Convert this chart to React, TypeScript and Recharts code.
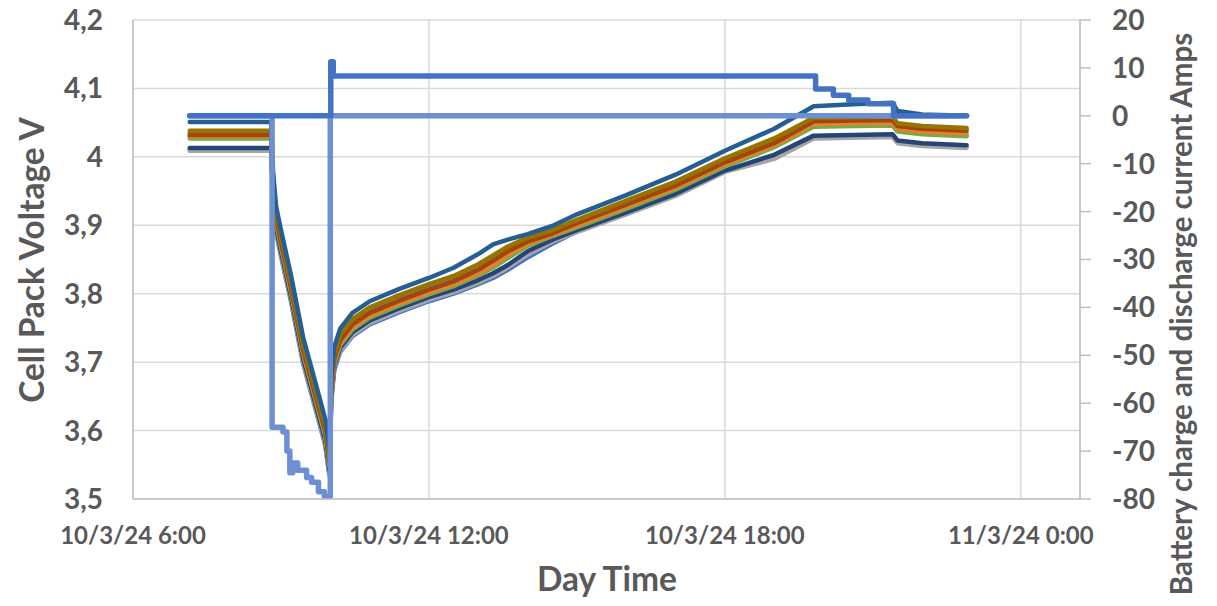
import { CartesianGrid, Line, LineChart, XAxis, YAxis } from "recharts";

// Sample times (hours since 10/3/24 0:00) shared by every cell trace
const hours = [
  7.15, 8.8, 8.84, 8.9, 9.0, 9.2, 9.45, 9.8, 9.9, 9.98, 10.02, 10.08, 10.2, 10.45, 10.8, 11.4, 12.0,
  12.5, 13.0, 13.3, 13.6, 14.0, 14.5, 15.0, 16.0, 17.0, 18.0, 19.0, 19.8, 20.6, 21.4, 21.5, 22.0, 22.9,
];

// Cell voltages (V)
const cellTeal = [
  4.051, 4.051, 3.978, 3.928, 3.893, 3.828, 3.736, 3.643, 3.616, 3.573, 3.677, 3.722, 3.749, 3.772, 3.789, 3.807, 3.823,
  3.838, 3.858, 3.872, 3.879, 3.887, 3.899, 3.916, 3.944, 3.974, 4.009, 4.041, 4.074, 4.077, 4.079, 4.067, 4.062, 4.06,
];
const cellOlive = [
  4.038, 4.038, 3.968, 3.918, 3.883, 3.818, 3.726, 3.633, 3.606, 3.563, 3.668, 3.713, 3.74, 3.763, 3.78, 3.798, 3.814,
  3.826, 3.843, 3.856, 3.869, 3.882, 3.893, 3.908, 3.936, 3.964, 3.998, 4.027, 4.057, 4.058, 4.059, 4.049, 4.045, 4.042,
];
const cellGrey = [
  4.035, 4.035, 3.964, 3.914, 3.879, 3.814, 3.722, 3.629, 3.602, 3.559, 3.664, 3.709, 3.736, 3.759, 3.776, 3.794, 3.81,
  3.822, 3.839, 3.852, 3.866, 3.879, 3.891, 3.906, 3.933, 3.961, 3.995, 4.023, 4.054, 4.055, 4.056, 4.047, 4.043, 4.04,
];
const cellBrown = [
  4.032, 4.032, 3.96, 3.91, 3.875, 3.81, 3.718, 3.625, 3.598, 3.555, 3.66, 3.705, 3.732, 3.755, 3.772, 3.79, 3.806,
  3.818, 3.835, 3.848, 3.862, 3.876, 3.888, 3.903, 3.93, 3.958, 3.992, 4.02, 4.052, 4.053, 4.054, 4.045, 4.041, 4.038,
];
const cellOrange = [
  4.03, 4.03, 3.957, 3.907, 3.872, 3.807, 3.715, 3.622, 3.595, 3.552, 3.656, 3.701, 3.728, 3.751, 3.768, 3.786, 3.802,
  3.814, 3.83, 3.842, 3.857, 3.873, 3.886, 3.9, 3.927, 3.955, 3.989, 4.017, 4.048, 4.049, 4.05, 4.041, 4.037, 4.034,
];
const cellGreen = [
  4.027, 4.027, 3.954, 3.904, 3.869, 3.804, 3.712, 3.619, 3.592, 3.549, 3.653, 3.698, 3.725, 3.748, 3.765, 3.783, 3.799,
  3.811, 3.827, 3.838, 3.852, 3.87, 3.884, 3.897, 3.924, 3.952, 3.986, 4.014, 4.044, 4.045, 4.046, 4.037, 4.033, 4.03,
];
const cellSky = [
  4.029, 4.029, 3.955, 3.905, 3.87, 3.805, 3.713, 3.62, 3.593, 3.55, 3.654, 3.699, 3.726, 3.749, 3.766, 3.784, 3.8,
  3.812, 3.828, 3.84, 3.854, 3.871, 3.885, 3.898, 3.925, 3.953, 3.987, 4.015, 4.045, 4.046, 4.047, 4.038, 4.034, 4.031,
];
const cellNavy = [
  4.013, 4.013, 3.947, 3.897, 3.862, 3.797, 3.705, 3.612, 3.585, 3.542, 3.649, 3.694, 3.721, 3.744, 3.761, 3.779, 3.795,
  3.806, 3.82, 3.83, 3.842, 3.862, 3.879, 3.893, 3.919, 3.946, 3.98, 4.003, 4.031, 4.032, 4.033, 4.024, 4.02, 4.017,
];
const cellSilver = [
  4.009, 4.009, 3.942, 3.892, 3.857, 3.792, 3.7, 3.607, 3.58, 3.537, 3.645, 3.69, 3.717, 3.74, 3.757, 3.775, 3.791,
  3.802, 3.816, 3.826, 3.838, 3.857, 3.876, 3.89, 3.916, 3.943, 3.978, 3.997, 4.027, 4.028, 4.029, 4.02, 4.016, 4.013,
];
const cellBlue = [
  4.011, 4.011, 3.94, 3.89, 3.855, 3.79, 3.698, 3.605, 3.578, 3.535, 3.643, 3.688, 3.715, 3.738, 3.755, 3.773, 3.789,
  3.8, 3.814, 3.823, 3.835, 3.853, 3.873, 3.891, 3.918, 3.946, 3.98, 4.0, 4.029, 4.03, 4.031, 4.022, 4.018, 4.015,
];

// Pack current (A), logged only when it changes
const dischargeHours = [7.15, 8.82, 9.04, 9.12, 9.18, 9.24, 9.34, 9.52, 9.62, 9.76, 9.88, 10.0, 22.9];
const dischargeAmps = [0, -65, -66, -70, -74.5, -72.5, -74, -75.5, -76.5, -78.5, -79.5, 0, 0];
const chargeHours = [7.15, 10.01, 10.06, 19.84, 20.2, 20.51, 20.9, 21.42, 22.9];
const chargeAmps = [0, 11.3, 8.3, 5.6, 4.3, 3.3, 2.5, 0, 0];

const timeTicks = [6, 12, 18, 24];
const timeLabels = ["10/3/24 6:00", "10/3/24 12:00", "10/3/24 18:00", "11/3/24 0:00"];
const voltTicks = [3.5, 3.6, 3.7, 3.8, 3.9, 4.0, 4.1, 4.2];
const voltLabels = ["3,5", "3,6", "3,7", "3,8", "3,9", "4", "4,1", "4,2"];
const ampTicks = [-80, -70, -60, -50, -40, -30, -20, -10, 0, 10, 20];

const INK = "#595959";
const FONT = "Lato, 'Open Sans', sans-serif";

const cells = [
  { key: "blue", color: "#4472C4", values: cellBlue },
  { key: "silver", color: "#A5A5A5", values: cellSilver },
  { key: "navy", color: "#264478", values: cellNavy },
  { key: "sky", color: "#5B9BD5", values: cellSky },
  { key: "green", color: "#70AD47", values: cellGreen },
  { key: "orange", color: "#ED7D31", values: cellOrange },
  { key: "grey", color: "#7F7F7F", values: cellGrey },
  { key: "brown", color: "#9E480E", values: cellBrown },
  { key: "olive", color: "#997300", values: cellOlive },
  { key: "teal", color: "#255E91", values: cellTeal },
];

const toRows = (xs: number[], ys: number[]) => xs.map((t, i) => ({ t, v: ys[i] }));

const tickStyle = { fill: INK, fontSize: 28, fontWeight: 700, fontFamily: FONT };

export default function App() {
  return (
    <div style={{ position: "absolute", left: 0, top: 0, width: 1217, height: 606, background: "#fff" }}>
      <LineChart width={1217} height={606} margin={{ top: 20, right: 0, bottom: 0, left: 0 }}>
        <CartesianGrid xAxisId="time" yAxisId="volt" stroke="#D9D9D9" strokeWidth={1.5} />
        <XAxis
          xAxisId="time"
          dataKey="t"
          type="number"
          domain={[6, 25.2]}
          ticks={timeTicks}
          allowDataOverflow
          height={107}
          tickFormatter={(v: number) => timeLabels[timeTicks.indexOf(v)] ?? ""}
          tick={{ ...tickStyle, fontSize: 24 }}
          tickLine={false}
          tickSize={0}
          tickMargin={28}
          axisLine={{ stroke: "#BFBFBF", strokeWidth: 1.5 }}
        />
        <YAxis
          yAxisId="volt"
          orientation="left"
          type="number"
          domain={[3.5, 4.2]}
          ticks={voltTicks}
          allowDataOverflow
          width={133}
          tickFormatter={(v: number) => voltLabels[voltTicks.findIndex((x) => Math.abs(x - v) < 1e-6)] ?? ""}
          tick={tickStyle}
          tickLine={false}
          tickSize={0}
          tickMargin={30}
          axisLine={{ stroke: "#BFBFBF", strokeWidth: 1.5 }}
        />
        <YAxis
          yAxisId="amp"
          orientation="right"
          type="number"
          domain={[-80, 20]}
          ticks={ampTicks}
          allowDataOverflow
          width={137}
          tick={{ ...tickStyle, textAnchor: "start" }}
          tickLine={{ stroke: "#BFBFBF", strokeWidth: 1.5 }}
          tickSize={11}
          tickMargin={21}
          axisLine={{ stroke: "#BFBFBF", strokeWidth: 1.5 }}
        />
        {cells.map((c) => (
          <Line
            key={c.key}
            xAxisId="time"
            yAxisId="volt"
            data={toRows(hours, c.values)}
            dataKey="v"
            type="linear"
            stroke={c.color}
            strokeWidth={4.5}
            strokeLinecap="round"
            strokeLinejoin="round"
            dot={false}
            activeDot={false}
            isAnimationActive={false}
          />
        ))}
        <Line
          xAxisId="time"
          yAxisId="amp"
          data={toRows(dischargeHours, dischargeAmps)}
          dataKey="v"
          type="stepAfter"
          stroke="#6C90D2"
          strokeWidth={5.5}
          strokeLinecap="round"
          strokeLinejoin="round"
          dot={false}
          activeDot={false}
          isAnimationActive={false}
        />
        <Line
          xAxisId="time"
          yAxisId="amp"
          data={toRows(chargeHours, chargeAmps)}
          dataKey="v"
          type="stepAfter"
          stroke="#4472C4"
          strokeWidth={5.5}
          strokeLinecap="round"
          strokeLinejoin="round"
          dot={false}
          activeDot={false}
          isAnimationActive={false}
        />
      </LineChart>
      <svg
        width={1217}
        height={606}
        style={{ position: "absolute", left: 0, top: 0, pointerEvents: "none" }}
        fontFamily={FONT}
        fontWeight={700}
        fill={INK}
      >
        <text x={44} y={260} fontSize={33.5} textAnchor="middle" transform="rotate(-90 44 260)">
          Cell Pack Voltage V
        </text>
        <text x={607} y={591} fontSize={33.5} textAnchor="middle">
          Day Time
        </text>
        <text x={1192} y={314} fontSize={29.5} textAnchor="middle" transform="rotate(-90 1192 314)">
          Battery charge and discharge current Amps
        </text>
      </svg>
    </div>
  );
}
